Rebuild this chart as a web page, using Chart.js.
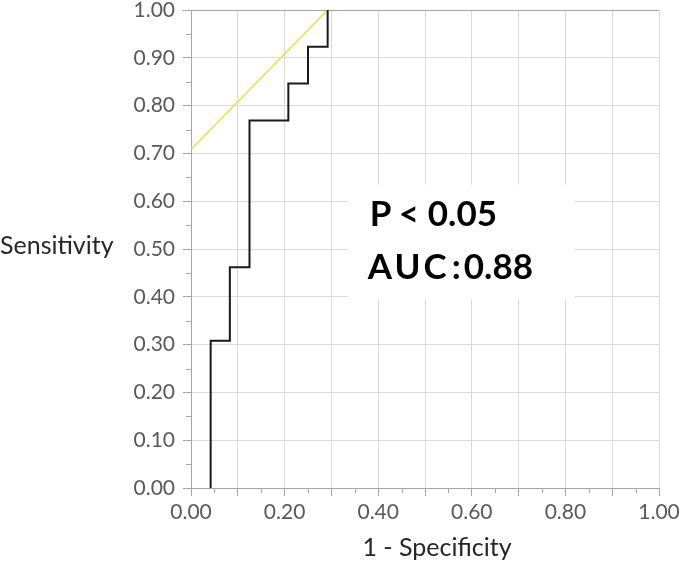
<!DOCTYPE html>
<html>
<head>
<meta charset="utf-8">
<script src="https://cdn.jsdelivr.net/npm/chart.js@4"></script>
<style>
  html, body { margin: 0; padding: 0; background: #fff; }
  #wrap { width: 685px; height: 563px; }
</style>
</head>
<body>
<div id="wrap"><canvas id="roc" width="685" height="563"></canvas></div>
<script>
// ROC corner points (1 - specificity, sensitivity), stepped: up first, then right
const rocFpr = [0.042, 0.083, 0.125, 0.208, 0.250, 0.292, 0.292];
const rocTpr = [0.000, 0.308, 0.462, 0.769, 0.846, 0.923, 1.000];

// yellow reference line
const refFpr = [0.000, 0.292];
const refTpr = [0.708, 1.000];

const yTitle = "Sensitivity";
const xTitle = "1 - Specificity";
// note tokens: [text, x offset from box left]
const noteLine1 = [["P", 22], ["<", 51], ["0.05", 80]];
const noteLine2 = [["AUC", 20], [":", 104], ["0.88", 116]];

const tickFont = { family: "Lato", size: 21, lineHeight: 1 };
const gridCol = "#d9d9d9";
const axisCol = "#a6a6a6";
const clear = "rgba(0,0,0,0)";

// titles, short minor ticks and the white note box
const extras = {
  id: "extras",
  afterDraw(chart) {
    const { ctx, scales } = chart;
    const x = scales.x, y = scales.y;
    ctx.save();

    // minor ticks (odd 0.05 steps), shorter than the major ones
    ctx.strokeStyle = axisCol;
    ctx.lineWidth = 1;
    ctx.beginPath();
    x.ticks.forEach((t, i) => {
      if (i % 2) {
        const px = Math.round(x.getPixelForValue(t.value)) + 0.5;
        ctx.moveTo(px, x.top);
        ctx.lineTo(px, x.top + 5);
      }
    });
    y.ticks.forEach((t, i) => {
      if (i % 2) {
        const py = Math.round(y.getPixelForValue(t.value)) + 0.5;
        ctx.moveTo(y.right, py);
        ctx.lineTo(y.right - 5, py);
      }
    });
    ctx.stroke();

    ctx.fillStyle = "#262626";
    ctx.font = "25px Lato";
    ctx.textBaseline = "middle";
    ctx.textAlign = "left";
    ctx.fillText(yTitle, 0, 246);
    ctx.textAlign = "center";
    ctx.fillText(xTitle, (x.left + x.right) / 2 + 12, 548);

    const bx0 = x.getPixelForValue(0.335), bx1 = x.getPixelForValue(0.82);
    const by0 = y.getPixelForValue(0.635), by1 = y.getPixelForValue(0.395);
    ctx.fillStyle = "#fff";
    ctx.fillRect(bx0, by0, bx1 - bx0, by1 - by0);
    ctx.fillStyle = "#000";
    ctx.font = "bold 35px Lato";
    ctx.textAlign = "left";
    ctx.textBaseline = "alphabetic";
    noteLine1.forEach(([s, dx]) => ctx.fillText(s, bx0 + dx, by0 + 42));
    noteLine2.forEach(([s, dx]) => {
      ctx.letterSpacing = s === "AUC" ? "3px" : "0px";
      ctx.fillText(s, bx0 + dx, by0 + 95);
    });
    ctx.restore();
  }
};

new Chart(document.getElementById("roc"), {
  type: "line",
  data: {
    datasets: [
      {
        label: "ROC",
        data: rocFpr.map((v, i) => ({ x: v, y: rocTpr[i] })),
        borderColor: "#1a1a1a",
        borderWidth: 2,
        stepped: "after",
        pointRadius: 0,
        fill: false
      },
      {
        label: "ref",
        data: refFpr.map((v, i) => ({ x: v, y: refTpr[i] })),
        borderColor: "#e8dc50",
        borderWidth: 1.5,
        pointRadius: 0,
        fill: false
      }
    ]
  },
  options: {
    responsive: false,
    animation: false,
    layout: { padding: { left: 0, right: 26, top: 10, bottom: 0 } },
    plugins: { legend: { display: false }, tooltip: { enabled: false } },
    scales: {
      x: {
        type: "linear",
        min: 0, max: 1,
        afterFit(s) { s.height = 75; s.paddingLeft = 0; s.paddingRight = 0; },
        border: { color: axisCol, width: 1 },
        grid: {
          color: c => (c.index % 2 ? clear : gridCol),
          tickColor: c => (c.index % 2 ? clear : axisCol),
          tickLength: 8
        },
        ticks: {
          stepSize: 0.05,
          autoSkip: false,
          maxRotation: 0,
          padding: 6,
          color: "#595959",
          font: tickFont,
          callback: (v, i) => (i % 4 === 0 ? v.toFixed(2) : "")
        }
      },
      y: {
        min: 0, max: 1,
        afterFit(s) { s.width = 191; s.paddingTop = 0; s.paddingBottom = 0; },
        border: { color: axisCol, width: 1 },
        grid: {
          color: c => (c.index % 2 ? clear : (c.index === 20 ? "#a0a0a0" : gridCol)),
          tickColor: c => (c.index % 2 ? clear : axisCol),
          tickLength: 8
        },
        ticks: {
          stepSize: 0.05,
          autoSkip: false,
          padding: 8,
          color: "#595959",
          font: tickFont,
          callback: (v, i) => (i % 2 === 0 ? v.toFixed(2) : "")
        }
      }
    }
  },
  plugins: [extras]
});
</script>
</body>
</html>
